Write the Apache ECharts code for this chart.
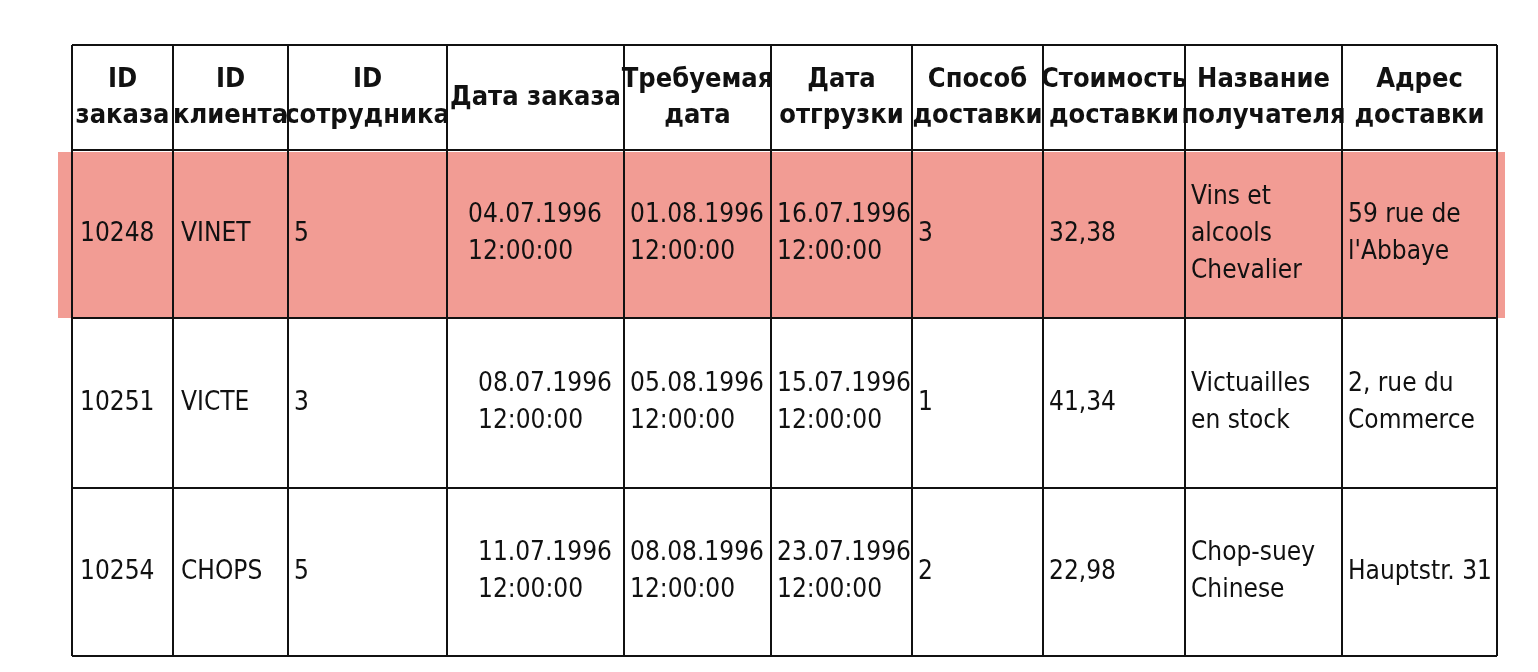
<!DOCTYPE html>
<html><head><meta charset="utf-8">
<script src="https://cdn.jsdelivr.net/npm/echarts@6/dist/echarts.min.js"></script>
<style>html,body{margin:0;background:#fff}#c{width:1538px;height:672px}</style>
</head><body><div id="c"></div>
<script>
var headers = ['ID\nзаказа','ID\nклиента','ID\nсотрудника','Дата заказа','Требуемая\nдата','Дата\nотгрузки','Способ\nдоставки','Стоимость\nдоставки','Название\nполучателя','Адрес\nдоставки'];
var rows = [
  ['10248','VINET','5','04.07.1996\n12:00:00','01.08.1996\n12:00:00','16.07.1996\n12:00:00','3','32,38','Vins et\nalcools\nChevalier','59 rue de\nl\'Abbaye'],
  ['10251','VICTE','3','08.07.1996\n12:00:00','05.08.1996\n12:00:00','15.07.1996\n12:00:00','1','41,34','Victuailles\nen stock','2, rue du\nCommerce'],
  ['10254','CHOPS','5','11.07.1996\n12:00:00','08.08.1996\n12:00:00','23.07.1996\n12:00:00','2','22,98','Chop-suey\nChinese','Hauptstr. 31']
];
var highlightRow = 0;
var colX = [72,173,288,447,624,771,912,1043,1185,1342,1497];
var rowY = [45,150,318,488,656];
var padX = [8,8,6,21,6,6,6,6,6,6];
var font = '"Liberation Sans Narrow","DejaVu Sans Condensed","Roboto",sans-serif';

var g = [];
// highlight
g.push({type:'rect',shape:{x:58,y:rowY[highlightRow+1]+2,width:1447,height:rowY[highlightRow+2]-rowY[highlightRow+1]-2},style:{fill:'#f29c94'}});
// grid lines
colX.forEach(function(x){g.push({type:'line',shape:{x1:x,y1:rowY[0],x2:x,y2:rowY[rowY.length-1]},style:{stroke:'#111',lineWidth:2}});});
rowY.forEach(function(y){g.push({type:'line',shape:{x1:colX[0],y1:y,x2:colX[colX.length-1],y2:y},style:{stroke:'#111',lineWidth:2}});});
// header
headers.forEach(function(h,i){
  g.push({type:'text',x:(colX[i]+colX[i+1])/2,y:(rowY[0]+rowY[1])/2,
    style:{text:h,fill:'#111',font:'bold 27px '+font,align:'center',verticalAlign:'middle',lineHeight:36}});
});
rows.forEach(function(r,ri){
  r.forEach(function(v,ci){
    var px = padX[ci]; if(ri>0 && ci===3) px=31;
    g.push({type:'text',x:colX[ci]+px,y:(rowY[ri+1]+rowY[ri+2])/2,
      style:{text:v,fill:'#111',font:'26px '+font,align:'left',verticalAlign:'middle',lineHeight:37}});
  });
});
var chart = echarts.init(document.getElementById('c'));
chart.setOption({backgroundColor:'#fff',graphic:g});
</script></body></html>
